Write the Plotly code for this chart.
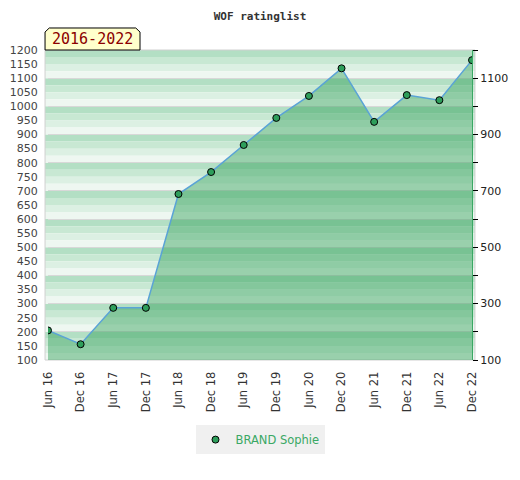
import plotly.graph_objects as go

# Rating data
periods = ['Jun 16', 'Dec 16', 'Jun 17', 'Dec 17', 'Jun 18', 'Dec 18', 'Jun 19',
           'Dec 19', 'Jun 20', 'Dec 20', 'Jun 21', 'Dec 21', 'Jun 22', 'Dec 22']
ratings = [205, 156, 285, 285, 689, 767, 863, 959, 1037, 1135, 945, 1040, 1022, 1164]
player = 'BRAND Sophie'
left_ticks = list(range(100, 1201, 50))
right_ticks = list(range(100, 1201, 100))
right_labels = [str(v) if v % 200 == 100 else '' for v in right_ticks]

fig = go.Figure()

# striped background, each 100 band fades from green to near white
stripe_colors = ['#b3dfc4', '#c8e8d3', '#dcf0e3', '#eef7f1']
shapes = []
for base in range(100, 1200, 100):
    for i, col in enumerate(stripe_colors):
        shapes.append(dict(type='rect', xref='paper', yref='y',
                           x0=-0.007, x1=1.007,
                           y0=base + 100 - 25 * (i + 1), y1=base + 100 - 25 * i,
                           fillcolor=col, line_width=0, layer='below'))
# plot border
shapes.append(dict(type='rect', xref='paper', yref='paper', x0=-0.007, x1=1.007,
                   y0=0, y1=1, line=dict(color='#d0d0d0', width=1), layer='below'))
# badge with clipped corners
shapes.append(dict(type='path', xref='paper', yref='paper',
                   path='M -0.007 1.0 L -0.007 1.058 L 0.003 1.071 L 0.207 1.071 '
                        'L 0.217 1.058 L 0.217 1.0 Z',
                   fillcolor='#ffffcc', line=dict(color='black', width=1), layer='above'))

# filled area + line (no legend entry)
fig.add_trace(go.Scatter(
    x=periods, y=ratings, mode='lines', showlegend=False,
    fill='tozeroy', fillcolor='rgba(49,160,88,0.45)',
    line=dict(color='#5aa3d6', width=1.5),
))
# markers, these carry the legend entry
fig.add_trace(go.Scatter(
    x=periods, y=ratings, name=player, mode='markers',
    marker=dict(size=7, color='#2e9e5b', line=dict(color='black', width=1)),
))
# invisible trace to carry the right axis
fig.add_trace(go.Scatter(x=periods, y=ratings, yaxis='y2', mode='none',
                         showlegend=False, hoverinfo='skip'))

# page body adds an 8px margin, so the figure is 8px smaller than the window
fig.update_layout(
    width=512, height=472,
    margin=dict(l=40, r=48, t=42, b=120, autoexpand=False),
    paper_bgcolor='white', plot_bgcolor='white',
    title=dict(text='<b>WOF ratinglist</b>', x=0.5, xref='paper', y=0.99,
               xanchor='center', yanchor='top',
               font=dict(family='DejaVu Sans Mono', size=11, color='#333333')),
    xaxis=dict(range=[0, len(periods) - 1], tickangle=-90, showgrid=False, automargin=False,
               ticks='outside', ticklen=6, tickcolor='rgba(0,0,0,0)',
               tickfont=dict(family='DejaVu Sans', size=11.5, color='#333333'),
               zeroline=False),
    yaxis=dict(range=[100, 1200], tickvals=left_ticks, showgrid=False, zeroline=False,
               ticks='outside', ticklen=7, tickcolor='rgba(0,0,0,0)', automargin=False,
               tickfont=dict(family='DejaVu Sans', size=11, color='#444444')),
    yaxis2=dict(range=[100, 1200], overlaying='y', side='right', tickvals=right_ticks,
                ticktext=right_labels, ticks='outside', ticklen=5, tickcolor='black',
                showline=True, linecolor='#3aa864', linewidth=1, automargin=False,
                showgrid=True, gridcolor='#d8d8d8', gridwidth=1, zeroline=False,
                tickfont=dict(family='DejaVu Sans', size=11, color='#222222')),
    legend=dict(orientation='h', x=0.5, xanchor='center', y=-0.21, yanchor='top',
                bgcolor='#f0f0f0', itemwidth=30,
                font=dict(family='DejaVu Sans', size=11.5, color='#3aa864')),
    shapes=shapes,
    annotations=[dict(text='2016-2022', xref='paper', yref='paper', x=0.105, y=1.035,
                      showarrow=False, xanchor='center', yanchor='middle',
                      font=dict(family='DejaVu Sans Mono', size=15, color='#8b0000'))],
)

fig.write_html('out.html')
